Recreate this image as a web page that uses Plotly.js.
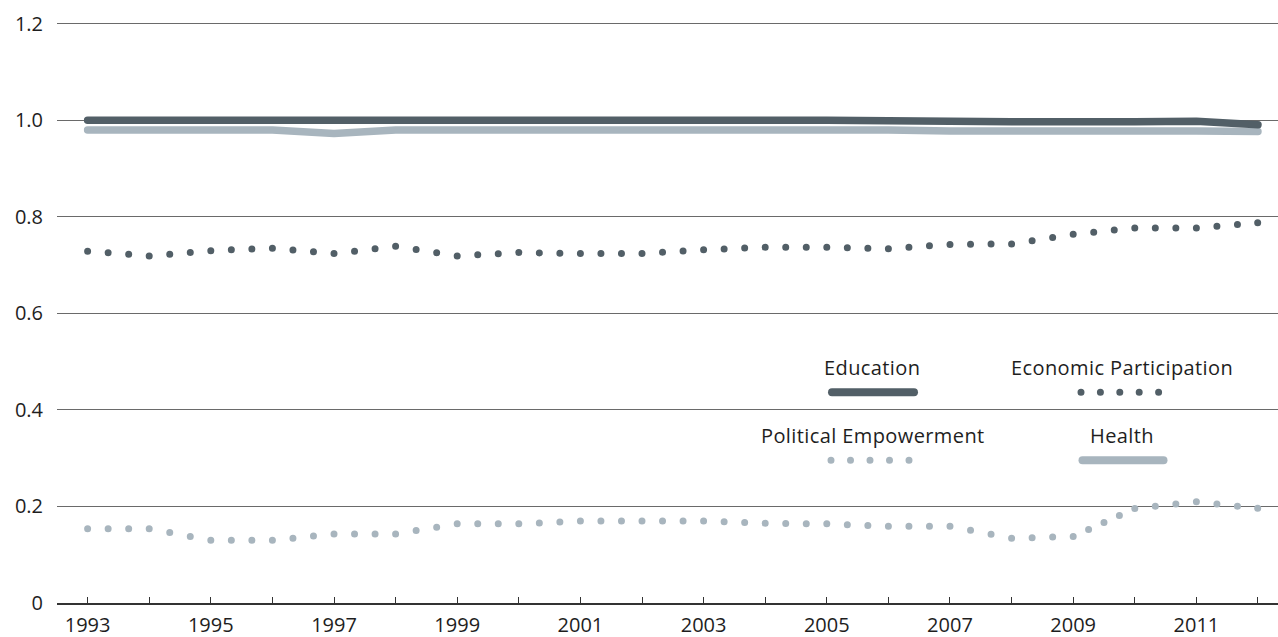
<!DOCTYPE html>
<html>
<head>
<meta charset="utf-8">
<script src="https://cdn.plot.ly/plotly-3.0.1.min.js"></script>
<style>
html,body{margin:0;padding:0;background:#fff;}
#chart{width:1278px;height:637px;}
.scatterlayer .js-line{stroke-linecap:round !important;stroke-linejoin:round !important;}
.shapelayer path{stroke-linecap:round !important;}
.annotation-text{letter-spacing:0.4px;}
</style>
</head>
<body>
<div id="chart"></div>
<script>
// ---- data ----
const years = [1993,1994,1995,1996,1997,1998,1999,2000,2001,2002,2003,2004,2005,2006,2007,2008,2009,2010,2011,2012];
const education = [1.0,1.0,1.0,1.0,1.0,1.0,1.0,1.0,1.0,1.0,1.0,1.0,1.0,0.999,0.998,0.997,0.997,0.997,0.998,0.991];
const health = [0.980,0.980,0.980,0.980,0.973,0.980,0.980,0.980,0.980,0.980,0.980,0.980,0.980,0.980,0.978,0.978,0.978,0.978,0.978,0.977];
const economic = [0.729,0.719,0.730,0.735,0.724,0.739,0.719,0.726,0.724,0.724,0.732,0.737,0.737,0.734,0.743,0.744,0.764,0.777,0.777,0.788];
const political = [0.154,0.154,0.130,0.130,0.143,0.143,0.164,0.164,0.170,0.170,0.170,0.165,0.164,0.159,0.159,0.134,0.138,0.196,0.210,0.196];
const yTicks = [0,0.2,0.4,0.6,0.8,1.0,1.2];
const yTickText = ['0','0.2','0.4','0.6','0.8','1.0','1.2'];
const xTickText = years.map(y => (y % 2 === 1 && y < 2012) ? String(y) : '');
const names = ['Education','Economic Participation','Political Empowerment','Health'];

// ---- styles ----
const DARK = '#525f67';
const LIGHT = '#a8b5be';
const FONT = 'Open Sans, Noto Sans, sans-serif';
const TXT = '#1e1e1e';

// plot area in pixels
const L = 57, R = 1278, T = 18.5, B = 602.7;
const xRange = [1992.503, 2012.325];
const yRange = [0, 1.21];
const xs = (R - L) / (xRange[1] - xRange[0]);
const ys = (B - T) / (yRange[1] - yRange[0]);

// dotted pattern: each year-to-year segment gets evenly spaced round dots,
// with a dot sitting on every yearly value
function dotDash(vals, spacing) {
  const gaps = [];
  for (let i = 0; i < vals.length - 1; i++) {
    const dx = (years[i + 1] - years[i]) * xs;
    const dy = (vals[i + 1] - vals[i]) * ys;
    const len = Math.hypot(dx, dy);
    const k = Math.max(1, Math.round(len / spacing));
    for (let j = 0; j < k; j++) gaps.push(len / k);
  }
  gaps[gaps.length - 1] -= 0.3; // keep the final dot inside the path
  const parts = [];
  gaps.forEach(g => parts.push('0px', g.toFixed(3) + 'px'));
  parts.push('0px', '1000px');
  return parts.join(',');
}

const traces = [
  {x: years, y: health, name: names[3], mode: 'lines', line: {color: LIGHT, width: 7.5, simplify: false}},
  {x: years, y: education, name: names[0], mode: 'lines', line: {color: DARK, width: 7.5, simplify: false}},
  {x: years, y: economic, name: names[1], mode: 'lines', line: {color: DARK, width: 7, simplify: false, dash: dotDash(economic, 18.5)}},
  {x: years, y: political, name: names[2], mode: 'lines', line: {color: LIGHT, width: 7, simplify: false, dash: dotDash(political, 18.5)}}
];

const px = v => (v - L) / (R - L);
const py = v => (B - v) / (B - T);

const legendText = [
  {t: names[0], x: 872, y: 367},
  {t: names[1], x: 1122, y: 367},
  {t: names[2], x: 873, y: 435},
  {t: names[3], x: 1122, y: 435}
];
const annotations = legendText.map(d => ({
  text: d.t, xref: 'paper', yref: 'paper', x: px(d.x), y: py(d.y),
  xanchor: 'center', yanchor: 'middle', showarrow: false,
  font: {family: FONT, size: 20, color: TXT}
}));

const shapes = [
  {type: 'line', xref: 'paper', yref: 'paper', x0: px(832), x1: px(914), y0: py(392), y1: py(392), line: {color: DARK, width: 8}},
  {type: 'line', xref: 'paper', yref: 'paper', x0: px(1081), x1: px(1081 + 4*19.4 + 0.5), y0: py(392), y1: py(392), line: {color: DARK, width: 7, dash: '0px,19.4px'}},
  {type: 'line', xref: 'paper', yref: 'paper', x0: px(831), x1: px(831 + 4*19.5 + 0.5), y0: py(460), y1: py(460), line: {color: LIGHT, width: 7, dash: '0px,19.5px'}},
  {type: 'line', xref: 'paper', yref: 'paper', x0: px(1082.5), x1: px(1163.5), y0: py(460), y1: py(460), line: {color: LIGHT, width: 8}}
];

const layout = {
  width: 1278, height: 637,
  margin: {l: L, r: 1278 - R, t: T, b: 637 - B, pad: 0},
  paper_bgcolor: '#ffffff', plot_bgcolor: '#ffffff',
  showlegend: false,
  font: {family: FONT, color: TXT},
  xaxis: {
    range: xRange, tickmode: 'array', tickvals: years, ticktext: xTickText,
    ticks: 'inside', ticklen: 6, tickwidth: 1, tickcolor: '#333',
    showline: true, linecolor: '#333', linewidth: 1.5,
    showgrid: false, zeroline: false,
    tickfont: {family: FONT, size: 20, color: TXT}, ticklabelstandoff: 3
  },
  yaxis: {
    range: yRange, tickmode: 'array', tickvals: yTicks, ticktext: yTickText,
    ticks: '', showgrid: true, gridcolor: '#6a6a6a', gridwidth: 1,
    zeroline: false, showline: false,
    tickfont: {family: FONT, size: 20, color: TXT}, ticklabelstandoff: 13
  },
  annotations: annotations,
  shapes: shapes
};

Plotly.newPlot('chart', traces, layout, {staticPlot: true, displayModeBar: false});
</script>
</body>
</html>
